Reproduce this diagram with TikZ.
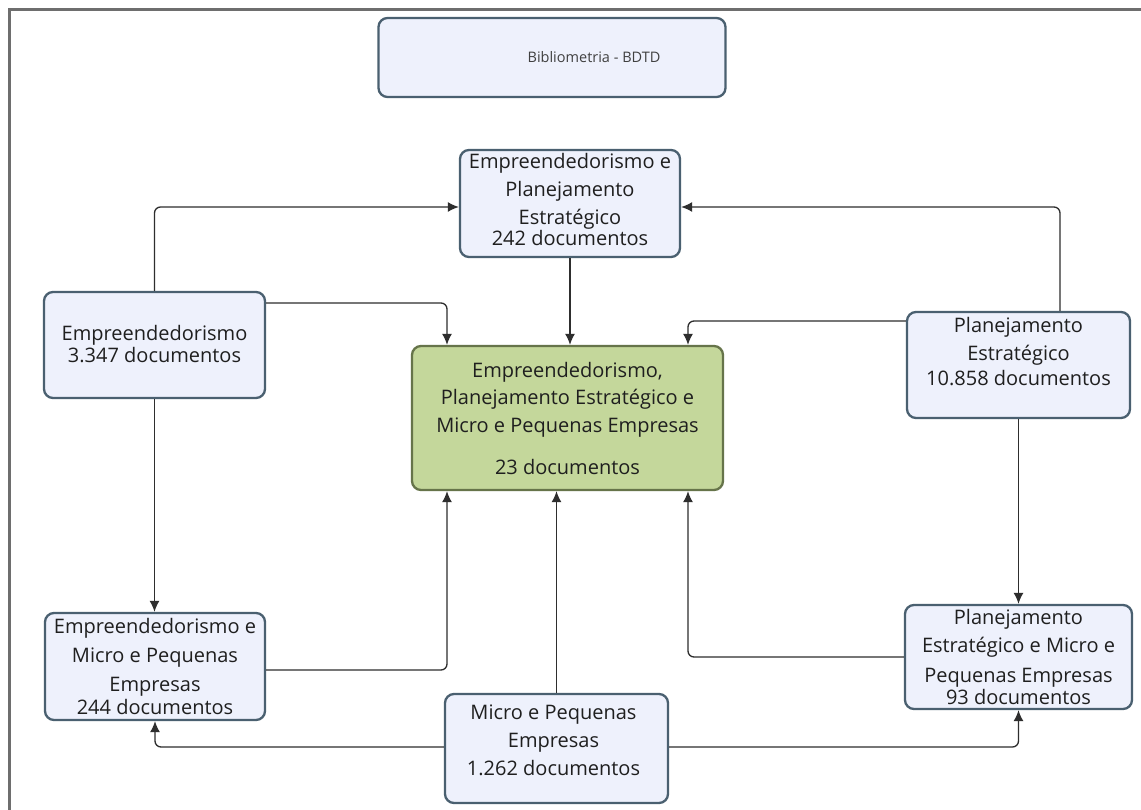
\documentclass[tikz,border=0pt]{standalone}
\usepackage{fontspec}
\setmainfont{Open Sans}
\usetikzlibrary{arrows.meta}
\definecolor{boxfill}{HTML}{EEF1FC}
\definecolor{boxline}{HTML}{4A6070}
\definecolor{greenfill}{HTML}{C4D79B}
\definecolor{greenline}{HTML}{66744A}
\definecolor{wire}{HTML}{2E2E2E}
\definecolor{framegray}{HTML}{6E6E6E}
\begin{document}
\begin{tikzpicture}[x=1pt,y=-1pt,
  box/.style={draw=boxline, line width=2.3pt, fill=boxfill, rounded corners=9pt, inner sep=0pt},
  greenbox/.style={box, draw=greenline, fill=greenfill},
  txt/.style={align=center, font=\fontsize{20}{28}\selectfont, text=black!88, inner sep=0pt},
  conn/.style={draw=wire, line width=1.3pt, rounded corners=6pt, -{Latex[length=11pt,width=10pt]}},
]
\useasboundingbox (0,0) rectangle (1141,810);
\fill[white] (0,0) rectangle (1141,810);

% outer frame (top and left edges)
\draw[framegray, line width=2.5pt] (9.5,810) -- (9.5,9.5) -- (1141,9.5);

% title
\node[box, minimum width=347pt, minimum height=79pt,
  label={[name=title-t, xshift=42pt, font=\fontsize{14.5}{16}\selectfont, text=black!75]center:Bibliometria - BDTD}]
  (title) at (552,57.5) {};

% boxes
\node[box, minimum width=220pt, minimum height=107pt,
  label={[txt, name=epe-t, yshift=4pt]center:{Empreendedorismo e\\Planejamento\\Estratégico\\[-7pt]242 documentos}}]
  (epe) at (570,203.5) {};

\node[box, minimum width=221pt, minimum height=106pt,
  label={[txt, name=e-t, yshift=1pt]center:{Empreendedorismo\\[-6pt]3.347 documentos}}]
  (e) at (154.5,345) {};

\node[greenbox, minimum width=311pt, minimum height=144pt,
  label={[txt, name=c-t]center:{Empreendedorismo,\\[-1pt]Planejamento Estratégico e\\Micro e Pequenas Empresas\\[14pt]23 documentos}}]
  (c) at (567.5,418) {};

\node[box, minimum width=223pt, minimum height=106pt,
  label={[txt, name=pe-t, yshift=13.5pt]center:{Planejamento\\Estratégico\\[-3pt]10.858 documentos}}]
  (pe) at (1018.5,365) {};

\node[box, minimum width=220pt, minimum height=107pt,
  label={[txt, name=empe-t]center:{Empreendedorismo e\\[1pt]Micro e Pequenas\\[1pt]Empresas\\[-5pt]244 documentos}}]
  (empe) at (155,666.5) {};

\node[box, minimum width=227pt, minimum height=104pt,
  label={[txt, name=pempe-t]center:{Planejamento\\Estratégico e Micro e\\[2pt]Pequenas Empresas\\[-6pt]93 documentos}}]
  (pempe) at (1018.5,657) {};

\node[box, minimum width=223pt, minimum height=109pt,
  label={[txt, name=mpe-t, yshift=8.5pt, xshift=-3pt]center:{Micro e Pequenas\\Empresas\\1.262 documentos}}]
  (mpe) at (556.5,748.5) {};

% connectors into the top combined box
\draw[conn] (e.north) |- ([yshift=-3.5pt]epe.west);
\draw[conn] ([xshift=41.5pt]pe.north) |- ([yshift=-3.5pt]epe.east);

% connectors into the central box from above
\draw[conn] (epe.south) -- (epe.south |- c.north);
\draw[conn] ([yshift=42pt]e.east) -| ([xshift=-120.5pt]c.north);
\draw[conn] ([yshift=44pt]pe.west) -| ([xshift=120.5pt]c.north);

% vertical links on the sides
\draw[conn] (e.south) -- (e.south |- empe.north);
\draw[conn] (pe.south) -- (pe.south |- pempe.north);

% connectors into the central box from below
\draw[conn] ([yshift=-3.5pt]empe.east) -| ([xshift=-120.5pt]c.south);
\draw[conn] (mpe.north) -- (mpe.north |- c.south);
\draw[conn] (pempe.west) -| ([xshift=120.5pt]c.south);

% connectors from the bottom box
\draw[conn] ([yshift=1.5pt]mpe.west) -| (empe.south);
\draw[conn] ([yshift=1.5pt]mpe.east) -| (pempe.south);
\end{tikzpicture}
\end{document}
